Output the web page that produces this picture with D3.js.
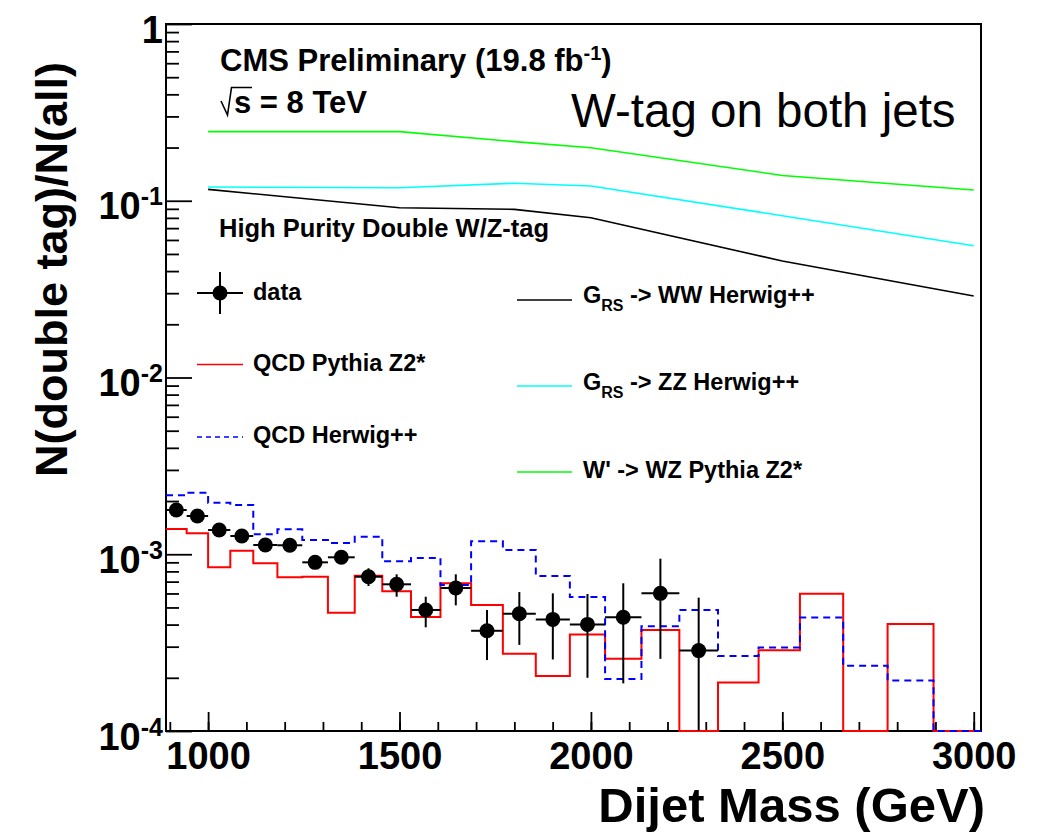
<!DOCTYPE html>
<html>
<head>
<meta charset="utf-8">
<script src="https://cdn.jsdelivr.net/npm/d3@7"></script>
<style>
  body { margin: 0; background: #fff; }
  svg text { font-family: "Liberation Sans", Arial, Helvetica, sans-serif; fill: #000; }
</style>
</head>
<body>
<svg id="chart" width="1037" height="835"></svg>
<script>
// Dijet mass bin edges (GeV)
const massEdges = [890, 944, 1000, 1058, 1118, 1181, 1246, 1313, 1383, 1455, 1530, 1607, 1687,
  1770, 1856, 1945, 2037, 2132, 2231, 2332, 2438, 2546, 2659, 2775, 2895, 3019];

// Data: double-tag fraction per bin, with lower / upper error-bar ends
const dataRatio = [1.78e-3, 1.646e-3, 1.371e-3, 1.268e-3, 1.128e-3, 1.124e-3, 9.0e-4, 9.61e-4,
  7.46e-4, 6.76e-4, 4.84e-4, 6.44e-4, 3.69e-4, 4.61e-4, 4.28e-4, 4.01e-4, 4.40e-4, 6.01e-4, 2.85e-4];
const dataHigh = [1.84e-3, 1.70e-3, 1.42e-3, 1.32e-3, 1.18e-3, 1.18e-3, 9.5e-4, 1.02e-3,
  8.33e-4, 7.70e-4, 5.75e-4, 7.70e-4, 4.84e-4, 6.11e-4, 6.01e-4, 5.96e-4, 6.85e-4, 9.44e-4, 5.68e-4];
const dataLow = [1.72e-3, 1.59e-3, 1.32e-3, 1.22e-3, 1.08e-3, 1.07e-3, 8.5e-4, 9.0e-4,
  6.61e-4, 5.75e-4, 3.86e-4, 5.14e-4, 2.52e-4, 3.07e-4, 2.54e-4, 2.00e-4, 1.86e-4, 2.56e-4, 0];

// QCD simulation histograms (one value per bin)
const qcdPythia = [1.39e-3, 1.313e-3, 8.43e-4, 1.047e-3, 8.88e-4, 7.40e-4, 7.46e-4, 4.67e-4,
  7.56e-4, 6.17e-4, 4.42e-4, 6.86e-4, 5.16e-4, 2.74e-4, 2.05e-4, 3.51e-4, 2.56e-4, 3.73e-4,
  0, 1.88e-4, 2.86e-4, 5.98e-4, 0, 4.03e-4, 0];
const qcdHerwig = [2.156e-3, 2.23e-3, 1.958e-3, 1.90e-3, 1.296e-3, 1.384e-3, 1.204e-3, 1.158e-3,
  1.257e-3, 9.12e-4, 9.52e-4, 6.70e-4, 1.184e-3, 1.057e-3, 7.53e-4, 5.73e-4, 1.97e-4, 3.91e-4,
  4.84e-4, 2.66e-4, 2.97e-4, 4.38e-4, 2.34e-4, 1.93e-4, 0];

// Signal efficiencies at the generated resonance masses
const signalMass = [1000, 1500, 1800, 2000, 2500, 3000];
const sigWW = [0.116, 0.0913, 0.0894, 0.0802, 0.0456, 0.0289];
const sigZZ = [0.1196, 0.1185, 0.1256, 0.1212, 0.0823, 0.0557];
const sigWZ = [0.246, 0.246, 0.216, 0.1996, 0.139, 0.115];

// Axis ticks
const xMajorTicks = [1000, 1500, 2000, 2500, 3000];
const xMinorTicks = d3.range(900, 3001, 100);
const yMajorTicks = [1e-4, 1e-3, 1e-2, 1e-1, 1];
const yTickBase = ["10", "10", "10", "10", "1"];
const yTickExp = ["-4", "-3", "-2", "-1", ""];

const frame = { left: 166, right: 981, top: 24, bottom: 731 };
const yMin = 1e-4;
const markerR = 7.5;

const svg = d3.select("#chart");
const x = d3.scaleLinear().domain([890, 3019]).range([frame.left, frame.right]);
const y = d3.scaleLog().domain([yMin, 1]).range([frame.bottom, frame.top]);
const yc = v => y(Math.max(v, yMin));

// ---- axes (ticks point inward) ----
const gx = svg.append("g").attr("transform", `translate(0,${frame.bottom})`);
gx.call(d3.axisBottom(x).tickValues(xMinorTicks).tickSize(-9).tickSizeOuter(0).tickFormat(""));
const gxMaj = svg.append("g").attr("transform", `translate(0,${frame.bottom})`);
gxMaj.call(d3.axisBottom(x).tickValues(xMajorTicks).tickSize(-19).tickSizeOuter(0)
  .tickPadding(11).tickFormat(d3.format("d")));
gxMaj.selectAll("text").style("font-size", "38px").style("font-weight", "bold")
  .attr("font-family", null);

const yMinor = [];
for (let e = -4; e < 0; e++) for (let k = 2; k <= 9; k++) yMinor.push(k * Math.pow(10, e));
const gy = svg.append("g").attr("transform", `translate(${frame.left},0)`);
gy.call(d3.axisLeft(y).tickValues(yMinor).tickSize(-13).tickSizeOuter(0).tickFormat(""));
const gyMaj = svg.append("g").attr("transform", `translate(${frame.left},0)`);
gyMaj.call(d3.axisLeft(y).tickValues(yMajorTicks).tickSize(-26).tickSizeOuter(0).tickFormat(""));
gyMaj.selectAll(".tick").each(function (d, i) {
  const t = d3.select(this).append("text")
    .attr("x", -3).attr("y", 18)
    .attr("text-anchor", "end")
    .style("font-size", "38px").style("font-weight", "bold");
  t.append("tspan").text(yTickBase[i]);
  if (yTickExp[i]) t.append("tspan").attr("dy", -14).style("font-size", "25px").text(yTickExp[i]);
});
svg.selectAll(".domain").remove();
svg.selectAll(".tick line").attr("stroke", "#000").attr("stroke-width", 1.8);

// frame
svg.append("rect")
  .attr("x", frame.left).attr("y", frame.top)
  .attr("width", frame.right - frame.left).attr("height", frame.bottom - frame.top)
  .attr("fill", "none").attr("stroke", "#000").attr("stroke-width", 2);

// ---- histograms ----
function stepPoints(vals) {
  const pts = vals.map((v, i) => [massEdges[i], v]);
  pts.push([massEdges[vals.length], vals[vals.length - 1]]);
  return pts;
}
const stepLine = d3.line().x(d => x(d[0])).y(d => yc(d[1])).curve(d3.curveStepAfter);

svg.append("path").attr("d", stepLine(stepPoints(qcdPythia)))
  .attr("fill", "none").attr("stroke", "#ff0000").attr("stroke-width", 2);
svg.append("path").attr("d", stepLine(stepPoints(qcdHerwig)))
  .attr("fill", "none").attr("stroke", "#0000ff").attr("stroke-width", 2)
  .attr("stroke-dasharray", "7,5");

// ---- signal curves ----
const sigLine = d3.line().x((d, i) => x(signalMass[i])).y(d => y(d));
[[sigWZ, "#00ff00"], [sigZZ, "#00ffff"], [sigWW, "#000000"]].forEach(([vals, col]) => {
  svg.append("path").attr("d", sigLine(vals))
    .attr("fill", "none").attr("stroke", col).attr("stroke-width", 1.6);
});

// ---- data points ----
const gd = svg.append("g");
dataRatio.forEach((v, i) => {
  const xc = x((massEdges[i] + massEdges[i + 1]) / 2);
  gd.append("line").attr("x1", x(massEdges[i])).attr("x2", x(massEdges[i + 1]))
    .attr("y1", y(v)).attr("y2", y(v)).attr("stroke", "#000").attr("stroke-width", 2);
  gd.append("line").attr("x1", xc).attr("x2", xc)
    .attr("y1", yc(dataLow[i])).attr("y2", yc(dataHigh[i]))
    .attr("stroke", "#000").attr("stroke-width", 2);
  gd.append("circle").attr("cx", xc).attr("cy", y(v)).attr("r", markerR).attr("fill", "#000");
});

// ---- labels ----
const cms = svg.append("text").attr("x", 220).attr("y", 71)
  .style("font-size", "31px").style("font-weight", "bold");
cms.append("tspan").text("CMS Preliminary (19.8 fb");
cms.append("tspan").attr("dy", -11).style("font-size", "20px").text("-1");
cms.append("tspan").attr("dy", 11).text(")");

svg.append("path").attr("d", "M221,101 L227.5,115 L231.5,87.5 L252,87.5")
  .attr("fill", "none").attr("stroke", "#000").attr("stroke-width", 1.6);
svg.append("text").attr("x", 234).attr("y", 113)
  .style("font-size", "31px").style("font-weight", "bold").text("s = 8 TeV");

svg.append("text").attr("x", 571).attr("y", 127)
  .style("font-size", "47.5px").text("W-tag on both jets");

svg.append("text").attr("x", 219).attr("y", 237)
  .style("font-size", "25.5px").style("font-weight", "bold").text("High Purity Double W/Z-tag");

// legend (left column)
const lg = svg.append("g");
lg.append("line").attr("x1", 197).attr("x2", 243).attr("y1", 293).attr("y2", 293)
  .attr("stroke", "#000").attr("stroke-width", 2);
lg.append("line").attr("x1", 220).attr("x2", 220).attr("y1", 272).attr("y2", 314)
  .attr("stroke", "#000").attr("stroke-width", 2);
lg.append("circle").attr("cx", 220).attr("cy", 293).attr("r", markerR).attr("fill", "#000");
lg.append("line").attr("x1", 197).attr("x2", 243).attr("y1", 364.5).attr("y2", 364.5)
  .attr("stroke", "#ff0000").attr("stroke-width", 1.6);
lg.append("line").attr("x1", 197).attr("x2", 243).attr("y1", 437).attr("y2", 437)
  .attr("stroke", "#0000ff").attr("stroke-width", 1.6).attr("stroke-dasharray", "5,4");
[["data", 300], ["QCD Pythia Z2*", 371], ["QCD Herwig++", 443]].forEach(([t, yy]) => {
  lg.append("text").attr("x", 253).attr("y", yy)
    .style("font-size", "23.5px").style("font-weight", "bold").text(t);
});

// legend (right column)
const rg = svg.append("g");
[["#000000", 300, "G", "RS", " -> WW Herwig++", 303],
 ["#00ffff", 386, "G", "RS", " -> ZZ Herwig++", 390],
 ["#00ff00", 472, "W' -> WZ Pythia Z2*", "", "", 478]].forEach(([col, ly, a, sub, b, ty]) => {
  rg.append("line").attr("x1", 517).attr("x2", 572).attr("y1", ly).attr("y2", ly)
    .attr("stroke", col).attr("stroke-width", 1.6);
  const t = rg.append("text").attr("x", 583).attr("y", ty)
    .style("font-size", "23.5px").style("font-weight", "bold");
  t.append("tspan").text(a);
  if (sub) {
    t.append("tspan").attr("dy", 8).style("font-size", "16px").text(sub);
    t.append("tspan").attr("dy", -8).text(b);
  }
});

// axis titles
svg.append("text").attr("transform", "translate(67,62) rotate(-90)")
  .attr("text-anchor", "end")
  .style("font-size", "45px").style("font-weight", "bold").text("N(double tag)/N(all)");
svg.append("text").attr("x", 985).attr("y", 822).attr("text-anchor", "end")
  .style("font-size", "49px").style("font-weight", "bold").text("Dijet Mass (GeV)");
</script>
</body>
</html>
